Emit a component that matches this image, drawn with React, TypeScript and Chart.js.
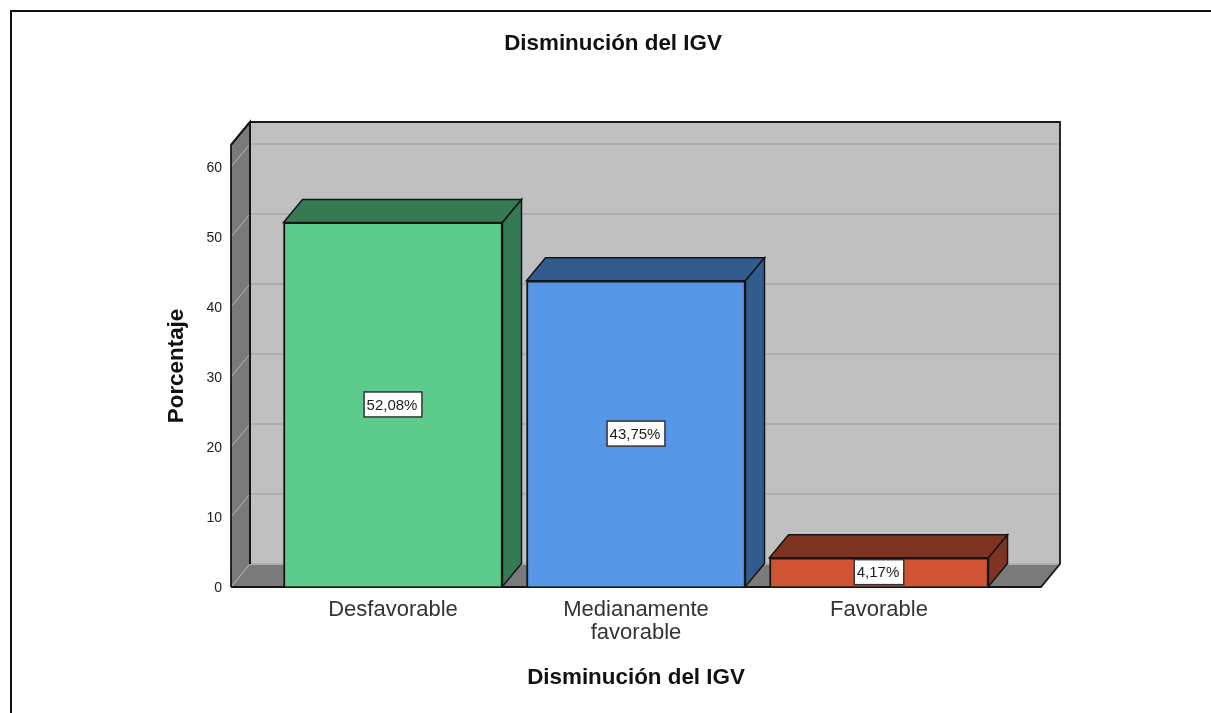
import React, { useEffect, useRef } from "react";
import { Chart, registerables } from "chart.js";

Chart.register(...registerables);

const chartTitle = "Disminución del IGV";
const xAxisTitle = "Disminución del IGV";
const yAxisTitle = "Porcentaje";
const categories: string[][] = [["Desfavorable"], ["Medianamente", "favorable"], ["Favorable"]];
const percentages = [52.08, 43.75, 4.17];
const valueLabels = ["52,08%", "43,75%", "4,17%"];
const frontColors = ["#5dcb8c", "#5596e6", "#d05433"];
const shadeColors = ["#367a54", "#335c8e", "#7e3420"];

const DEPTH_X = 19;
const DEPTH_Y = -23;
const INK = "#161616";
const SIDE_GREY = "#7a7a7a";
const WALL_GREY = "#c0c0c0";
const FONT = "'Liberation Sans', Arial, sans-serif";

function poly(ctx: CanvasRenderingContext2D, pts: number[][], fill: string | null, stroke: string | null, lw = 1.5) {
  ctx.beginPath();
  pts.forEach(([x, y], i) => (i ? ctx.lineTo(x, y) : ctx.moveTo(x, y)));
  if (fill) {
    ctx.closePath();
    ctx.fillStyle = fill;
    ctx.fill();
  }
  if (stroke) {
    ctx.strokeStyle = stroke;
    ctx.lineWidth = lw;
    ctx.lineJoin = "miter";
    ctx.stroke();
  }
}

const scene3d = {
  id: "scene3d",
  afterLayout(chart: any) {
    const t = chart.titleBlock;
    if (t) {
      t.left = 0;
      t.right = 1226;
    }
  },
  beforeDatasetsDraw(chart: any) {
    const { ctx, chartArea: a, scales } = chart;
    const dx = DEPTH_X;
    const dy = DEPTH_Y;
    ctx.save();
    // page frame
    poly(ctx, [[11, chart.height], [11, 11], [chart.width, 11]], null, "#111", 2);
    // back wall
    poly(ctx, [[a.left + dx, a.top + dy], [a.right + dx, a.top + dy], [a.right + dx, a.bottom + dy], [a.left + dx, a.bottom + dy]], WALL_GREY, null);
    // side wall and floor
    poly(ctx, [[a.left, a.top], [a.left + dx, a.top + dy], [a.left + dx, a.bottom + dy], [a.left, a.bottom]], SIDE_GREY, null);
    poly(ctx, [[a.left, a.bottom], [a.left + dx, a.bottom + dy], [a.right + dx, a.bottom + dy], [a.right, a.bottom]], SIDE_GREY, null);
    // grid
    scales.y.ticks.forEach((tick: any) => {
      const y = scales.y.getPixelForValue(tick.value);
      poly(ctx, [[a.left + dx, y + dy], [a.right + dx, y + dy]], null, "#aeaeae", 2);
      poly(ctx, [[a.left, y], [a.left + dx, y + dy]], null, "#b4b4b4", 1);
    });
    // outlines
    poly(ctx, [[a.left, a.bottom], [a.left, a.top], [a.left + dx, a.top + dy], [a.right + dx, a.top + dy], [a.right + dx, a.bottom + dy], [a.right, a.bottom], [a.left, a.bottom]], null, INK, 1.8);
    poly(ctx, [[a.left, a.top], [a.left + dx, a.top + dy], [a.left + dx, a.bottom + dy]], null, INK, 2);
    // bar top and side faces
    chart.getDatasetMeta(0).data.forEach((bar: any, i: number) => {
      const p = bar.getProps(["x", "y", "base", "width"], true);
      const l = p.x - p.width / 2;
      const r = p.x + p.width / 2;
      poly(ctx, [[l, p.y], [l + dx, p.y + dy], [r + dx, p.y + dy], [r, p.y]], shadeColors[i], INK);
      poly(ctx, [[r, p.y], [r + dx, p.y + dy], [r + dx, p.base + dy], [r, p.base]], shadeColors[i], INK);
    });
    ctx.restore();
  },
  afterDatasetsDraw(chart: any) {
    const { ctx } = chart;
    ctx.save();
    ctx.font = `15px ${FONT}`;
    ctx.textAlign = "center";
    ctx.textBaseline = "middle";
    chart.getDatasetMeta(0).data.forEach((bar: any, i: number) => {
      const p = bar.getProps(["x", "y", "base"], true);
      const cy = (p.y + p.base) / 2;
      const w = ctx.measureText(valueLabels[i]).width + 7;
      const h = 25;
      ctx.fillStyle = "#ffffff";
      ctx.fillRect(p.x - w / 2, cy - h / 2, w, h);
      ctx.strokeStyle = "#333";
      ctx.lineWidth = 1.5;
      ctx.strokeRect(p.x - w / 2, cy - h / 2, w, h);
      ctx.fillStyle = "#1c1c1c";
      ctx.fillText(valueLabels[i], p.x - 1, cy + 1);
    });
    ctx.restore();
  },
};

export default function App() {
  const ref = useRef<HTMLCanvasElement>(null);
  useEffect(() => {
    const chart = new Chart(ref.current!, {
      type: "bar",
      data: {
        datasets: [
          {
            data: percentages.map((v, i) => ({ x: i, y: v })),
            backgroundColor: frontColors,
            borderColor: INK,
            borderWidth: 2,
            barThickness: 219,
          },
        ],
      },
      plugins: [scene3d],
      options: {
        responsive: false,
        animation: false,
        layout: { padding: { left: 163, right: 170, top: 0, bottom: 0 } },
        plugins: {
          legend: { display: false },
          tooltip: { enabled: false },
          title: {
            display: true,
            text: chartTitle,
            color: "#111",
            font: { family: FONT, size: 22.4, weight: "bold", lineHeight: 1.2 },
            padding: { top: 30.5, bottom: 87.6 },
          },
        },
        scales: {
          x: {
            type: "linear",
            offset: false,
            min: -2 / 3,
            max: 2 + 2 / 3,
            afterFit: (s: any) => {
              s.height = 126;
              s.paddingLeft = 0;
              s.paddingRight = 0;
            },
            grid: { display: false },
            border: { display: false },
            ticks: {
              stepSize: 1,
              includeBounds: false,
              autoSkip: false,
              maxRotation: 0,
              minRotation: 0,
              padding: 3,
              color: "#333",
              font: { family: FONT, size: 22, lineHeight: 1.05 },
              callback: (v: any) => categories[v as number] ?? "",
            },
            title: {
              display: true,
              text: xAxisTitle,
              color: "#111",
              font: { family: FONT, size: 22.4, weight: "bold", lineHeight: 1.2 },
              padding: { top: 0, bottom: 22 },
            },
          },
          y: {
            min: 0,
            max: 63.14,
            afterFit: (s: any) => {
              s.width = 68;
              s.paddingTop = 0;
              s.paddingBottom = 0;
            },
            grid: { drawOnChartArea: false, drawTicks: false },
            border: { display: false },
            ticks: {
              stepSize: 10,
              includeBounds: false,
              padding: 9,
              labelOffset: 1,
              color: "#222",
              font: { family: FONT, size: 14 },
            },
            title: {
              display: true,
              text: yAxisTitle,
              color: "#111",
              font: { family: FONT, size: 22.4, weight: "bold", lineHeight: 1.2 },
              padding: { top: 0, bottom: 0 },
            },
          },
        },
      },
    } as any);
    return () => chart.destroy();
  }, []);
  return (
    <canvas
      ref={ref}
      width={1211}
      height={713}
      style={{ position: "absolute", left: 0, top: 0, display: "block" }}
    />
  );
}
